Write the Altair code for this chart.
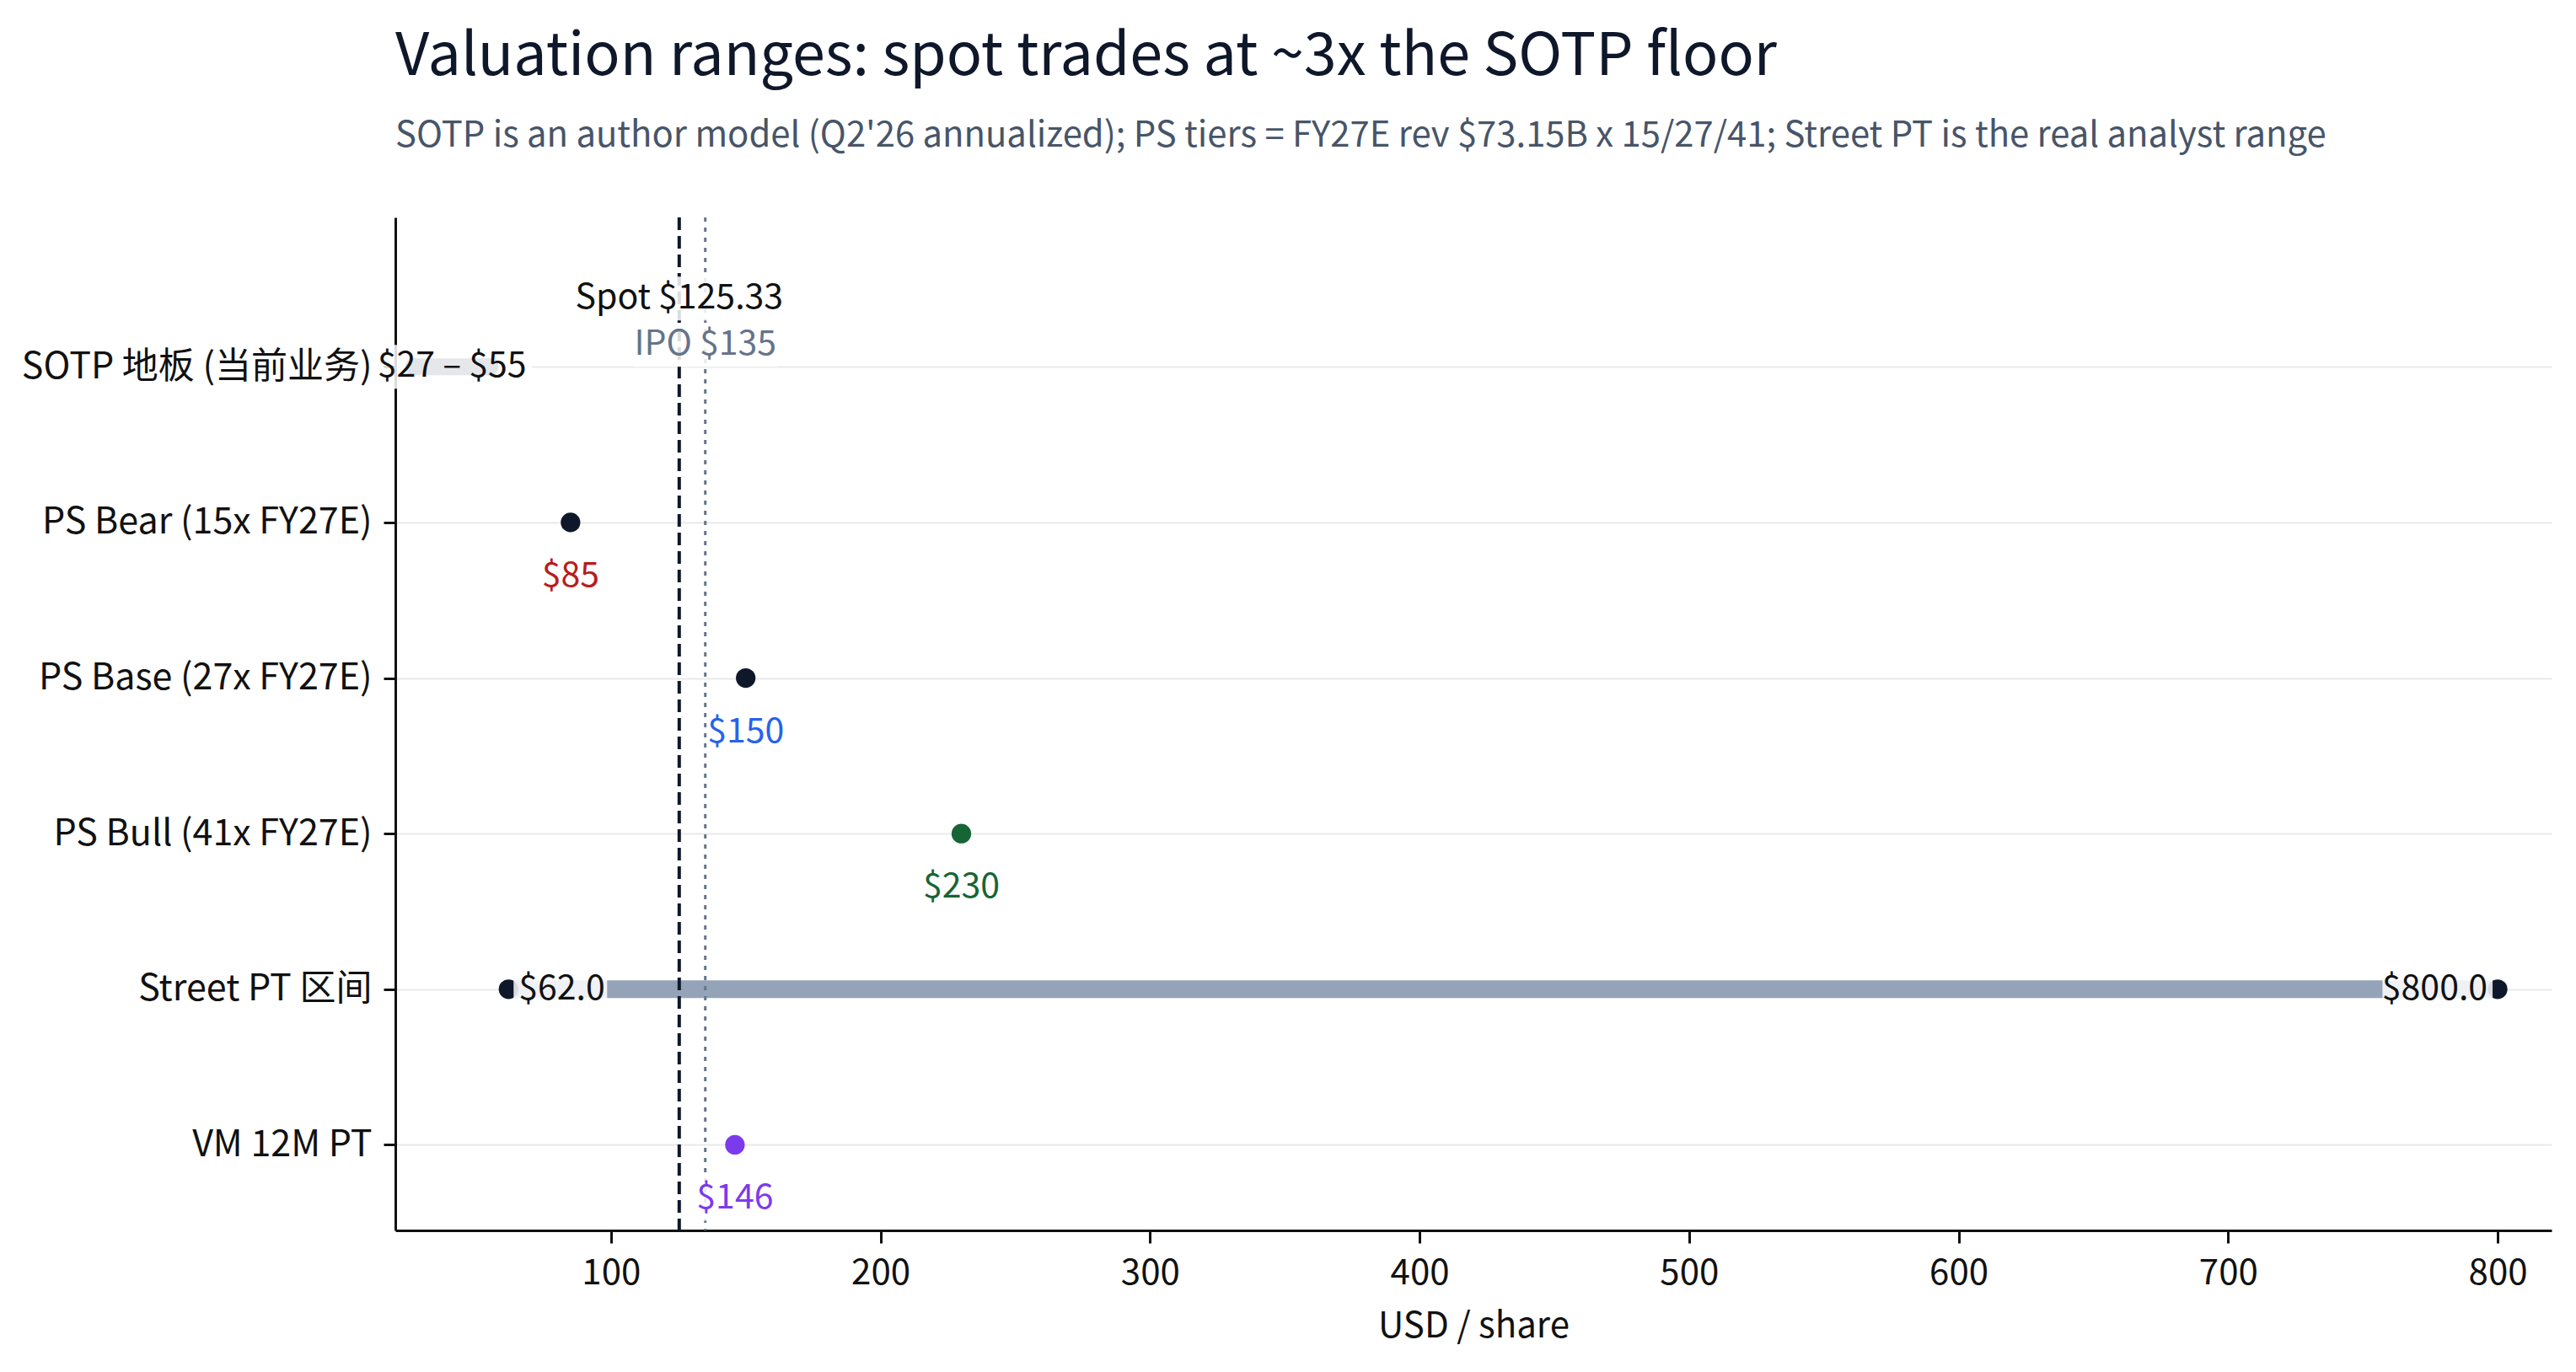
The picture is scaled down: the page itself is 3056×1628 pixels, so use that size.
import json
import altair as alt
import pandas as pd

# ---- data ----
rows = ["SOTP 地板 (当前业务)", "PS Bear (15x FY27E)", "PS Base (27x FY27E)",
        "PS Bull (41x FY27E)", "Street PT 区间", "VM 12M PT"]
point_rows = ["PS Bear (15x FY27E)", "PS Base (27x FY27E)", "PS Bull (41x FY27E)", "VM 12M PT"]
point_values = [85, 150, 230, 146]
dot_colors = ["#0f172a", "#0f172a", "#166534", "#7c3aed"]
label_colors = ["#b91c1c", "#2563eb", "#166534", "#7c3aed"]
sotp_range = [27, 55]
street_range = [62.0, 800.0]
spot_price = 125.33
ipo_price = 135
x_ticks = [100, 200, 300, 400, 500, 600, 700, 800]
x_domain = [20, 820]

title = "Valuation ranges: spot trades at ~3x the SOTP floor"
subtitle = ("SOTP is an author model (Q2'26 annualized); PS tiers = FY27E rev $73.15B x 15/27/41; "
            "Street PT is the real analyst range")

# ---- styling ----
W, H = 2558, 1202
FONT = "Noto Sans CJK SC"
LBL = 41
CHAR_W = 19.6
BOX_PAD = 7
BOX_HALF = 26


def X():
    return alt.X("v:Q", scale=alt.Scale(domain=x_domain, nice=False, zero=False),
                 axis=alt.Axis(values=x_ticks, title="USD / share", grid=False,
                               labelFontSize=42, titleFontSize=42, titleFontWeight="normal",
                               labelColor="#111111", titleColor="#111111",
                               domainColor="#111111", domainWidth=3, tickColor="#111111",
                               tickWidth=3, tickSize=15, labelPadding=15, titlePadding=22,
                               labelFont=FONT, titleFont=FONT))


def Y():
    return alt.Y("r:Q", scale=alt.Scale(domain=[-0.96, 5.55], reverse=True, nice=False, zero=False),
                 axis=alt.Axis(values=list(range(len(rows))), title=None,
                               labelExpr=json.dumps(rows, ensure_ascii=False) + "[datum.value]",
                               grid=True, gridColor="#e9e9e9", gridWidth=2, labelLimit=1000,
                               labelFontSize=43, labelColor="#111111", labelFont=FONT,
                               domainColor="#111111", domainWidth=3, tickColor="#111111",
                               tickWidth=3, tickSize=14, labelPadding=14))


pts = pd.DataFrame({"r": [rows.index(p) for p in point_rows], "v": point_values, "c": dot_colors})
street = pd.DataFrame({"r": [rows.index("Street PT 区间")], "v": [street_range[0]], "v2": [street_range[1]]})
street_ends = pd.DataFrame({"r": [rows.index("Street PT 区间")] * 2, "v": street_range})
sotp = pd.DataFrame({"r": [0], "v": [sotp_range[0]], "v2": [sotp_range[1]]})
sotp_ends = pd.DataFrame({"r": [0, 0], "v": sotp_range})

street_bar = alt.Chart(street).mark_rule(strokeWidth=21, color="#94a3b8").encode(x=X(), x2="v2", y=Y())
dots = alt.Chart(pts).mark_circle(size=540, opacity=1).encode(x=X(), y=Y(), color=alt.Color("c:N", scale=None))
street_dots = alt.Chart(street_ends).mark_circle(size=540, opacity=1, color="#0f172a").encode(x=X(), y=Y())
spot_rule = alt.Chart(pd.DataFrame({"v": [spot_price]})).mark_rule(
    color="#0f172a", strokeWidth=4, strokeDash=[15, 7]).encode(x=X())
ipo_rule = alt.Chart(pd.DataFrame({"v": [ipo_price]})).mark_rule(
    color="#64748b", strokeWidth=3, strokeDash=[5, 7]).encode(x=X())
sotp_bar = alt.Chart(sotp).mark_rule(strokeWidth=20, color="#e5e7eb").encode(x=X(), x2="v2", y=Y())
sotp_dots = alt.Chart(sotp_ends).mark_circle(size=450, opacity=1, color="#e2e5e9").encode(x=X(), y=Y())

boxes, texts = [], []


def add_label(r, v, text, color, align="center", dx=0, dy=0):
    w = CHAR_W * len(text)
    if align == "center":
        x0, x1 = dx - w / 2 - BOX_PAD, dx + w / 2 + BOX_PAD
    elif align == "left":
        x0, x1 = dx - BOX_PAD + 1, dx + w + BOX_PAD
    else:
        x0, x1 = dx - w - BOX_PAD, dx + BOX_PAD - 1
    d = pd.DataFrame({"r": [r], "v": [v], "t": [text]})
    boxes.append(alt.Chart(d).mark_rect(fill="white", opacity=0.85, xOffset=x0, x2Offset=x1,
                                        yOffset=dy - BOX_HALF, y2Offset=dy + BOX_HALF)
                 .encode(x=X(), x2="v", y=Y(), y2="r"))
    texts.append(alt.Chart(d).mark_text(align=align, baseline="middle", dx=dx, dy=dy, font=FONT,
                                        fontSize=LBL, color=color)
                 .encode(x=X(), y=Y(), text="t:N"))


add_label(0, spot_price, f"Spot ${spot_price:.2f}", "#111111", dy=-81)
add_label(0, ipo_price, f"IPO ${ipo_price}", "#64748b", dy=-26)
add_label(0, sum(sotp_range) / 2, f"${sotp_range[0]} – ${sotp_range[1]}", "#111111")
for p, v, c in zip(point_rows, point_values, label_colors):
    add_label(rows.index(p), v, f"${v}", c, dy=64)
add_label(rows.index("Street PT 区间"), street_range[0], f"${street_range[0]:.1f}", "#111111", "left", dx=12)
add_label(rows.index("Street PT 区间"), street_range[1], f"${street_range[1]:.1f}", "#111111", "right", dx=-12)

chart = alt.layer(
    street_bar, dots, street_dots, spot_rule, ipo_rule, *boxes, sotp_bar, sotp_dots, *texts
).properties(
    width=W, height=H,
    autosize=alt.AutoSizeParams(type="none"),
    padding={"left": 461, "top": 250, "right": 21, "bottom": 158},
    title=alt.Title(title, subtitle=subtitle, anchor="start", frame="group",
                    font=FONT, fontSize=70, fontWeight="normal", color="#0f172a",
                    subtitleFont=FONT, subtitleFontSize=41.8, subtitleColor="#475569",
                    offset=72, subtitlePadding=37),
).configure_view(strokeWidth=0)

chart.save("out.html", embed_options={"renderer": "svg", "actions": False})
